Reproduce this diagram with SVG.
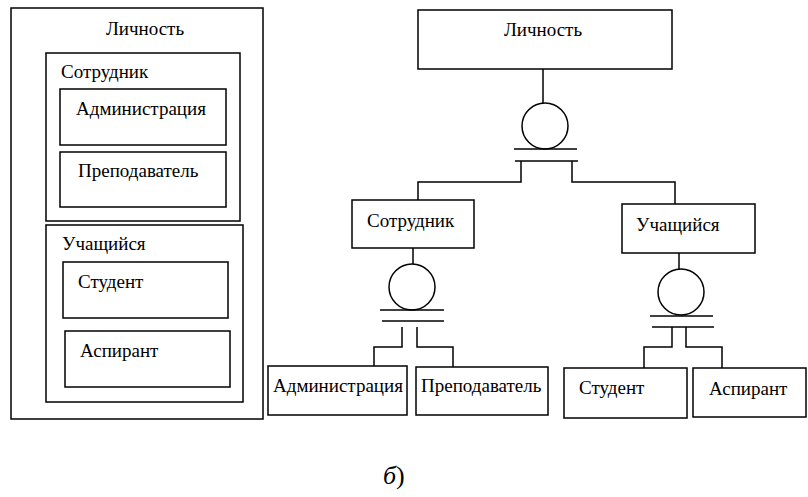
<svg xmlns="http://www.w3.org/2000/svg" width="808" height="497" viewBox="0 0 808 497">
<style>
rect{fill:#fff;stroke:#000;stroke-width:1.5}
text{font-family:'Liberation Serif','DejaVu Serif',serif;font-size:19px;fill:#000}
.c line,.c path,.c circle{fill:none;stroke:#000;stroke-width:1.5}
</style>
<rect x="0" y="0" width="808" height="497" style="stroke:none"/>
<g id="left-panel">
<g id="L-lichnost"><rect x="11" y="8" width="252" height="411"/><text x="145" y="35" text-anchor="middle">Личность</text></g>
<g id="L-sotrudnik"><rect x="46" y="53" width="194" height="168"/><text x="61" y="78">Сотрудник</text></g>
<g id="L-admin"><rect x="60" y="89" width="166" height="56"/><text x="76" y="115">Администрация</text></g>
<g id="L-prepod"><rect x="60" y="152" width="166" height="55"/><text x="78" y="177">Преподаватель</text></g>
<g id="L-uchash"><rect x="46" y="225" width="197" height="177"/><text x="62" y="250">Учащийся</text></g>
<g id="L-student"><rect x="63" y="262" width="165" height="56"/><text x="78" y="288">Студент</text></g>
<g id="L-aspirant"><rect x="65" y="331" width="165" height="56"/><text x="80" y="357">Аспирант</text></g>
</g>
<g id="connectors" class="c">
<line x1="543" y1="69" x2="543" y2="103"/>
<circle cx="545" cy="126" r="23"/>
<line x1="514" y1="149" x2="577" y2="149"/>
<line x1="515" y1="161" x2="578" y2="161"/>
<path d="M521 161V182H418V200"/>
<path d="M572 161V182H675V204"/>
<line x1="413" y1="248" x2="413" y2="264"/>
<circle cx="412" cy="287" r="23"/>
<line x1="380" y1="310" x2="444" y2="310"/>
<line x1="382" y1="321" x2="444" y2="321"/>
<path d="M402 327V347H374V367"/>
<path d="M417 327V347H453V367"/>
<line x1="679" y1="253" x2="679" y2="269"/>
<circle cx="681" cy="292" r="23"/>
<line x1="650" y1="316" x2="713" y2="316"/>
<line x1="652" y1="327" x2="714" y2="327"/>
<path d="M672 327V347H644V368"/>
<path d="M686 327V347H722V368"/>
</g>
<g id="R-lichnost"><rect x="418" y="10" width="254" height="59"/><text x="543" y="36" text-anchor="middle">Личность</text></g>
<g id="R-sotrudnik"><rect x="352" y="200" width="122" height="48"/><text x="367" y="227">Сотрудник</text></g>
<g id="R-uchash"><rect x="622" y="204" width="133" height="49"/><text x="636" y="231">Учащийся</text></g>
<g id="R-admin"><rect x="268" y="366" width="139" height="49"/><text x="273" y="392">Администрация</text></g>
<g id="R-prepod"><rect x="416" y="367" width="132" height="48"/><text x="421" y="392">Преподаватель</text></g>
<g id="R-student"><rect x="564" y="368" width="123" height="50"/><text x="579" y="394">Студент</text></g>
<g id="R-aspirant"><rect x="693" y="368" width="113" height="49"/><text x="709" y="395">Аспирант</text></g>
<text x="383" y="484" style="font-size:26px"><tspan font-style="italic">б</tspan>)</text>
</svg>
